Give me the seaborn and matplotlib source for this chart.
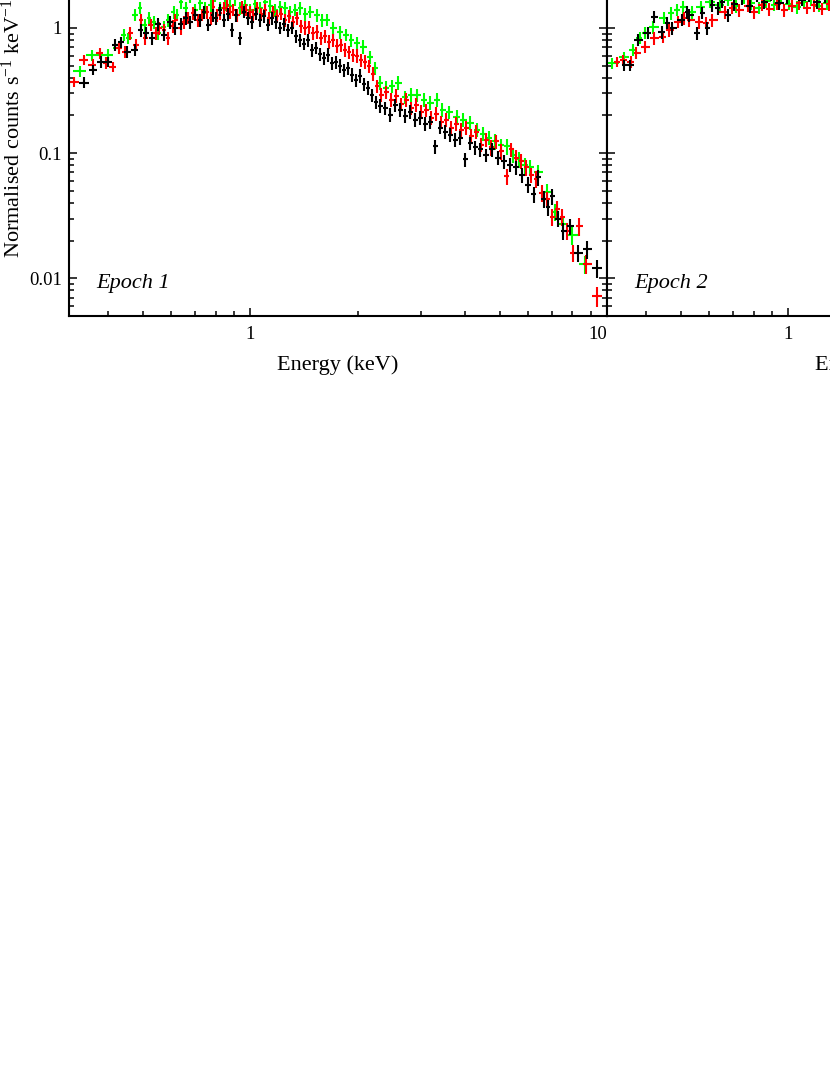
import numpy as np
import pandas as pd
import matplotlib
matplotlib.use("Agg")
import matplotlib.pyplot as plt
import matplotlib.ticker as mticker
import seaborn as sns

# values: energy (keV), normalised counts s^-1 keV^-1, error (%)
# ---- Epoch 1 ----
black1_energy = [0.341, 0.363, 0.382, 0.400, 0.418, 0.435, 0.452, 0.476, 0.492, 0.511,
                 0.531, 0.549, 0.571, 0.597, 0.616, 0.637, 0.658, 0.679, 0.701, 0.724,
                 0.743, 0.763, 0.783, 0.803, 0.824, 0.846, 0.868, 0.890, 0.914, 0.937,
                 0.962, 0.987, 1.013, 1.039, 1.067, 1.094, 1.123, 1.152, 1.182, 1.213,
                 1.245, 1.277, 1.311, 1.345, 1.381, 1.417, 1.454, 1.492, 1.531, 1.571,
                 1.612, 1.654, 1.697, 1.741, 1.787, 1.834, 1.882, 1.931, 1.981, 2.033,
                 2.086, 2.141, 2.197, 2.254, 2.313, 2.389, 2.467, 2.548, 2.632, 2.718,
                 2.807, 2.899, 2.994, 3.092, 3.193, 3.298, 3.406, 3.517, 3.633, 3.752,
                 3.875, 4.002, 4.133, 4.268, 4.409, 4.582, 4.763, 4.951, 5.147, 5.350,
                 5.561, 5.780, 6.008, 6.245, 6.408, 6.660, 6.835, 7.014, 7.292, 7.530,
                 7.877, 8.293, 8.790, 9.376]
black1_rate = [0.365, 0.463, 0.536, 0.536, 0.732, 0.773, 0.644, 0.668, 0.964, 0.912,
               0.832, 1.076, 0.880, 1.116, 1.000, 1.076, 1.201, 1.116, 1.269, 1.158,
               1.341, 1.057, 1.269, 1.201, 1.391, 1.158, 1.293, 0.964, 1.269, 0.832,
               1.341, 1.201, 1.116, 1.293, 1.158, 1.246, 1.057, 1.201, 1.116, 1.000,
               1.076, 0.964, 1.000, 0.864, 0.802, 0.746, 0.802, 0.668, 0.693, 0.621,
               0.577, 0.609, 0.526, 0.536, 0.498, 0.463, 0.480, 0.422, 0.385, 0.414,
               0.358, 0.333, 0.292, 0.257, 0.239, 0.230, 0.203, 0.243, 0.222, 0.199,
               0.214, 0.185, 0.192, 0.172, 0.178, 0.113, 0.160, 0.148, 0.140, 0.128,
               0.133, 0.089, 0.121, 0.111, 0.107, 0.097, 0.107, 0.092, 0.086, 0.081,
               0.077, 0.067, 0.056, 0.047, 0.064, 0.043, 0.037, 0.045, 0.030, 0.024,
               0.026, 0.016, 0.017, 0.012]
black1_pct = [10, 10, 11, 10, 11, 10, 11, 11, 12, 11,
              12, 12, 11, 12, 12, 11, 12, 12, 11, 12,
              12, 11, 12, 12, 11, 12, 12, 13, 12, 12,
              11, 12, 12, 11, 12, 12, 11, 12, 12, 11,
              12, 12, 11, 12, 12, 11, 12, 12, 11, 12,
              12, 13, 12, 12, 13, 12, 12, 13, 12, 13,
              12, 13, 12, 12, 13, 12, 13, 12, 13, 12,
              13, 12, 13, 13, 12, 13, 12, 13, 13, 12,
              13, 13, 12, 13, 13, 12, 13, 13, 13, 13,
              13, 14, 14, 15, 14, 15, 15, 14, 15, 16,
              15, 16, 16, 16]

red1_energy = [0.321, 0.341, 0.361, 0.378, 0.393, 0.411, 0.427, 0.444, 0.461, 0.479,
               0.495, 0.508, 0.525, 0.542, 0.556, 0.571, 0.589, 0.605, 0.616, 0.637,
               0.653, 0.670, 0.692, 0.715, 0.734, 0.758, 0.773, 0.788, 0.808, 0.824,
               0.846, 0.862, 0.879, 0.896, 0.920, 0.950, 0.975, 1.000, 1.020, 1.046,
               1.074, 1.102, 1.130, 1.160, 1.190, 1.221, 1.253, 1.286, 1.319, 1.354,
               1.389, 1.426, 1.463, 1.501, 1.540, 1.581, 1.622, 1.665, 1.708, 1.753,
               1.799, 1.846, 1.894, 1.943, 1.994, 2.046, 2.100, 2.154, 2.211, 2.269,
               2.328, 2.404, 2.483, 2.565, 2.649, 2.735, 2.825, 2.917, 3.013, 3.112,
               3.214, 3.319, 3.428, 3.540, 3.656, 3.776, 3.899, 4.027, 4.159, 4.295,
               4.436, 4.582, 4.732, 4.887, 5.047, 5.248, 5.385, 5.561, 5.742, 5.931,
               6.125, 6.326, 6.575, 6.791, 7.014, 7.245, 7.482, 7.727, 8.032, 8.348,
               8.734, 9.376]
red1_rate = [0.371, 0.556, 0.507, 0.632, 0.526, 0.489, 0.693, 0.644, 0.912, 0.732,
             1.158, 0.832, 1.057, 0.912, 1.000, 0.964, 0.832, 1.037, 1.158, 1.000,
             1.116, 1.201, 1.317, 1.158, 1.269, 1.341, 1.201, 1.470, 1.269, 1.317,
             1.443, 1.525, 1.341, 1.391, 1.269, 1.470, 1.391, 1.341, 1.269, 1.443,
             1.293, 1.391, 1.201, 1.341, 1.246, 1.293, 1.158, 1.246, 1.116, 1.201,
             1.037, 1.000, 1.019, 0.912, 0.929, 0.832, 0.864, 0.773, 0.802, 0.719,
             0.732, 0.668, 0.644, 0.609, 0.598, 0.556, 0.536, 0.498, 0.430, 0.345,
             0.292, 0.309, 0.267, 0.287, 0.248, 0.267, 0.230, 0.243, 0.214, 0.222,
             0.192, 0.206, 0.178, 0.185, 0.160, 0.172, 0.154, 0.160, 0.138, 0.148,
             0.117, 0.128, 0.111, 0.124, 0.103, 0.065, 0.107, 0.092, 0.086, 0.077,
             0.067, 0.062, 0.048, 0.043, 0.031, 0.036, 0.031, 0.024, 0.016, 0.026,
             0.013, 0.0072]
red1_pct = [10, 10, 11, 10, 11, 10, 11, 11, 12, 11,
            12, 12, 11, 12, 12, 11, 12, 12, 11, 12,
            12, 11, 12, 12, 11, 12, 12, 13, 12, 12,
            11, 12, 12, 11, 12, 12, 11, 12, 12, 11,
            12, 12, 11, 12, 12, 11, 12, 12, 11, 12,
            12, 13, 12, 12, 13, 12, 12, 13, 12, 13,
            12, 13, 12, 12, 13, 12, 13, 12, 13, 12,
            13, 12, 13, 13, 12, 13, 12, 13, 13, 12,
            13, 13, 12, 13, 13, 12, 13, 13, 13, 13,
            13, 13, 14, 13, 14, 14, 13, 14, 14, 15,
            14, 15, 15, 14, 15, 16, 15, 16, 16, 16,
            17, 18]

green1_energy = [0.332, 0.359, 0.398, 0.427, 0.441, 0.455, 0.476, 0.489, 0.505, 0.518,
                 0.535, 0.549, 0.571, 0.589, 0.609, 0.624, 0.637, 0.658, 0.679, 0.701,
                 0.724, 0.748, 0.773, 0.798, 0.824, 0.851, 0.879, 0.908, 0.937, 0.968,
                 1.000, 1.033, 1.067, 1.102, 1.138, 1.175, 1.213, 1.253, 1.294, 1.337,
                 1.381, 1.426, 1.473, 1.540, 1.591, 1.643, 1.708, 1.787, 1.857, 1.918,
                 1.994, 2.073, 2.169, 2.240, 2.313, 2.404, 2.499, 2.598, 2.718, 2.825,
                 2.936, 3.072, 3.193, 3.341, 3.450, 3.609, 3.800, 3.950, 4.133, 4.324,
                 4.494, 4.672, 4.856, 5.047, 5.248, 5.455, 5.668, 5.892, 6.085, 6.408,
                 6.791, 7.152, 7.530, 7.980, 8.678]
green1_rate = [0.454, 0.609, 0.609, 0.693, 0.880, 0.832, 1.269, 1.443, 1.057, 1.201,
               1.116, 0.912, 1.019, 1.158, 1.341, 1.269, 1.612, 1.443, 1.766, 1.391,
               1.582, 1.443, 1.525, 1.832, 1.443, 1.553, 1.497, 1.733, 1.443, 1.525,
               1.391, 1.553, 1.443, 1.612, 1.497, 1.391, 1.470, 1.443, 1.341, 1.391,
               1.443, 1.293, 1.341, 1.269, 1.158, 1.158, 1.000, 0.929, 0.880, 0.802,
               0.760, 0.706, 0.587, 0.480, 0.365, 0.333, 0.345, 0.365, 0.282, 0.292,
               0.292, 0.267, 0.253, 0.267, 0.222, 0.214, 0.195, 0.185, 0.175, 0.154,
               0.143, 0.133, 0.124, 0.115, 0.113, 0.097, 0.089, 0.080, 0.077, 0.070,
               0.049, 0.034, 0.027, 0.022, 0.013]
green1_pct = [10, 10, 11, 10, 11, 10, 11, 11, 12, 11,
              12, 12, 11, 12, 12, 11, 12, 12, 11, 12,
              12, 11, 12, 12, 11, 12, 12, 13, 12, 12,
              11, 12, 12, 11, 12, 12, 11, 12, 12, 11,
              12, 12, 11, 12, 12, 11, 12, 12, 11, 12,
              12, 13, 12, 12, 13, 12, 12, 13, 12, 13,
              12, 13, 12, 13, 13, 12, 13, 13, 12, 13,
              13, 13, 14, 13, 14, 14, 14, 15, 14, 15,
              15, 15, 16, 16, 16]

# ---- Epoch 2 ----
black2_energy = [0.347, 0.359, 0.378, 0.403, 0.421, 0.441, 0.458, 0.473, 0.502, 0.521,
                 0.528, 0.556, 0.574, 0.593, 0.612, 0.633, 0.653, 0.675, 0.706, 0.739,
                 0.778, 0.814, 0.857, 0.896, 0.944, 0.994, 1.039, 1.094, 1.145, 1.206,
                 1.269, 1.337]
black2_rate = [0.507, 0.507, 0.802, 0.912, 1.224, 0.929, 1.096, 1.000, 1.158, 1.341,
               1.269, 0.912, 1.317, 1.000, 1.525, 1.443, 1.612, 1.269, 1.550, 1.720,
               1.500, 1.800, 1.620, 1.850, 1.580, 1.750, 1.900, 1.680, 1.820, 1.600,
               1.780, 1.850]
black2_pct = [10, 10, 11, 11, 11, 12, 11, 12, 11, 12,
              12, 12, 11, 12, 12, 12, 11, 12, 12, 11,
              12, 11, 12, 11, 12, 11, 12, 11, 12, 11,
              12, 11]

red2_energy = [0.330, 0.343, 0.363, 0.375, 0.395, 0.421, 0.444, 0.464, 0.489, 0.511,
               0.528, 0.563, 0.589, 0.609, 0.662, 0.697, 0.729, 0.768, 0.803, 0.846,
               0.885, 0.932, 0.975, 1.026, 1.074, 1.130, 1.182, 1.245, 1.303]
red2_rate = [0.536, 0.556, 0.536, 0.632, 0.706, 0.832, 0.848, 0.964, 1.116, 1.201,
             1.158, 1.116, 1.096, 1.158, 1.341, 1.443, 1.391, 1.497, 1.341, 1.525,
             1.417, 1.553, 1.391, 1.497, 1.582, 1.443, 1.525, 1.417, 1.553]
red2_pct = [10, 10, 11, 11, 11, 12, 11, 12, 11, 12,
            12, 12, 11, 12, 12, 11, 12, 11, 12, 11,
            12, 11, 12, 11, 12, 11, 12, 11, 12]

green2_energy = [0.321, 0.347, 0.366, 0.383, 0.395, 0.416, 0.449, 0.470, 0.486, 0.505,
                 0.538, 0.567, 0.601, 0.641, 0.675, 0.715, 0.753, 0.788, 0.829, 0.868,
                 0.914, 0.956, 1.007, 1.060, 1.109, 1.160, 1.221, 1.286]
green2_rate = [0.526, 0.587, 0.668, 0.832, 0.912, 1.019, 1.201, 1.317, 1.391, 1.470,
               1.341, 1.470, 1.612, 1.525, 1.671, 1.497, 1.733, 1.582, 1.443, 1.641,
               1.525, 1.766, 1.553, 1.470, 1.612, 1.702, 1.497, 1.582]
green2_pct = [10, 10, 11, 11, 11, 12, 11, 12, 11, 12,
              12, 12, 11, 12, 11, 12, 11, 12, 11, 12,
              11, 12, 11, 12, 11, 12, 11, 12]

colors = {"black": "#000000", "red": "#ff0000", "green": "#00ff00"}

sns.set_theme(style="ticks", rc={"axes.edgecolor": "black", "xtick.color": "black",
                                 "ytick.color": "black", "text.color": "black",
                                 "axes.labelcolor": "black"})
plt.rcParams["font.family"] = ["Liberation Serif", "DejaVu Serif"]
plt.rcParams["mathtext.fontset"] = "custom"
plt.rcParams["mathtext.rm"] = "Liberation Serif"
plt.rcParams["mathtext.it"] = "Liberation Serif:italic"


def make_frame(energy, rate, pct, group):
    # x error = half the distance to the neighbouring bins
    e = np.asarray(energy, dtype=float)
    half = np.diff(e) / 2
    df = pd.DataFrame({"energy": e, "rate": rate, "pct": pct, "group": group})
    df["xlo"] = np.concatenate([[half[0]], half])
    df["xhi"] = np.concatenate([half, [half[-1]]])
    df["yerr"] = df["rate"] * df["pct"] / 100
    return df


def draw_epoch(ax, frames):
    for df in frames:
        c = colors[df["group"].iloc[0]]
        ax.errorbar(df["energy"], df["rate"], xerr=[df["xlo"], df["xhi"]],
                    yerr=df["yerr"], fmt="none", ecolor=c, elinewidth=1.5, capsize=0)
    sns.scatterplot(data=pd.concat(frames), x="energy", y="rate", hue="group",
                    palette=colors, s=3, linewidth=0, legend=False, ax=ax)


epoch1 = [make_frame(green1_energy, green1_rate, green1_pct, "green"),
          make_frame(red1_energy, red1_rate, red1_pct, "red"),
          make_frame(black1_energy, black1_rate, black1_pct, "black")]
epoch2 = [make_frame(green2_energy, green2_rate, green2_pct, "green"),
          make_frame(red2_energy, red2_rate, red2_pct, "red"),
          make_frame(black2_energy, black2_rate, black2_pct, "black")]

W, H = 830, 1075
fig = plt.figure(figsize=(W / 100, H / 100), dpi=100)
ax1 = fig.add_axes([69 / W, (H - 316) / H, 538 / W, 375.7 / H])
ax2 = fig.add_axes([607 / W, (H - 316) / H, 538 / W, 375.7 / H])

draw_epoch(ax1, epoch1)
draw_epoch(ax2, epoch2)

fmt = mticker.FuncFormatter(lambda v, p: f"{v:g}")
for ax, name in ((ax1, "Epoch 1"), (ax2, "Epoch 2")):
    ax.set_xscale("log")
    ax.set_yscale("log")
    ax.set_xlim(0.31, 10)
    ax.set_ylim(0.005, 5)
    ax.xaxis.set_major_locator(mticker.FixedLocator([1, 10]))
    ax.xaxis.set_minor_locator(mticker.LogLocator(base=10, subs=np.arange(2, 10), numticks=12))
    ax.xaxis.set_major_formatter(fmt)
    ax.xaxis.set_minor_formatter(mticker.NullFormatter())
    ax.yaxis.set_major_locator(mticker.FixedLocator([0.01, 0.1, 1]))
    ax.yaxis.set_minor_locator(mticker.LogLocator(base=10, subs=np.arange(2, 10), numticks=12))
    ax.yaxis.set_major_formatter(fmt)
    ax.yaxis.set_minor_formatter(mticker.NullFormatter())
    ax.tick_params(which="both", direction="in", top=True, right=True, width=1.1, labelsize=13.5)
    ax.tick_params(which="major", length=6)
    ax.tick_params(which="minor", length=3.5)
    ax.tick_params(axis="y", pad=5)
    ax.tick_params(axis="x", pad=7)
    for s in ax.spines.values():
        s.set_linewidth(1.5)
    ax.set_xlabel("Energy (keV)", fontsize=16, labelpad=9)
    ax.set_ylabel("")
    ax.text(0.05, 0.0745, name, transform=ax.transAxes, fontsize=16,
            style="italic", va="baseline")

ax2.tick_params(labelleft=False)
ax1.set_ylabel("Normalised counts s$^{-1}$ keV$^{-1}$", fontsize=16, labelpad=3)

fig.canvas.draw()
for t in ax1.get_xticklabels():
    if t.get_text() == "10":
        t.set_horizontalalignment("right")

fig.savefig("out.png", dpi=100)
